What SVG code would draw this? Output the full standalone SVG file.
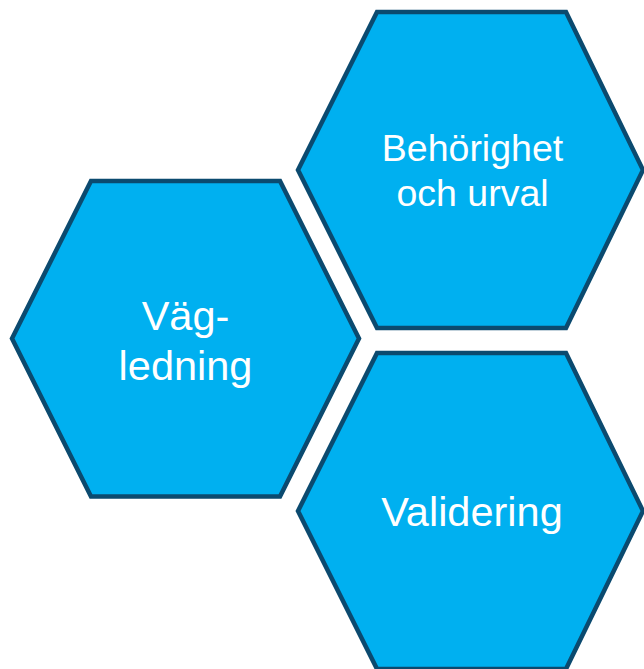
<svg xmlns="http://www.w3.org/2000/svg" width="644" height="669" viewBox="0 0 644 669">
<style>
.hex{fill:#00B0F0;stroke:#0B4A6F;stroke-width:4.5;stroke-linejoin:miter}
.lbl{font-family:"Liberation Sans",Arial,sans-serif;fill:#FFFFFF;text-anchor:middle}
</style>
<rect width="644" height="669" fill="#FFFFFF"/>
<g id="node-vagledning">
<polygon class="hex" points="12,338.5 91,181 280,181 359,338.5 280,496.5 91,496.5"/>
<text class="lbl" font-size="41.5" x="185.5" y="330">Väg-</text>
<text class="lbl" font-size="41.5" x="185.5" y="380">ledning</text>
</g>
<g id="node-behorighet">
<polygon class="hex" points="298,170 377,12 566,12 643,170 566,328 377,328"/>
<text class="lbl" font-size="37.5" x="472.5" y="161">Behörighet</text>
<text class="lbl" font-size="37.5" x="472.5" y="206">och urval</text>
</g>
<g id="node-validering">
<polygon class="hex" points="298,511 377,353 566,353 643,511 566,669 377,669"/>
<text class="lbl" font-size="41.5" x="472" y="526">Validering</text>
</g>
<g id="connectors"></g>
</svg>
